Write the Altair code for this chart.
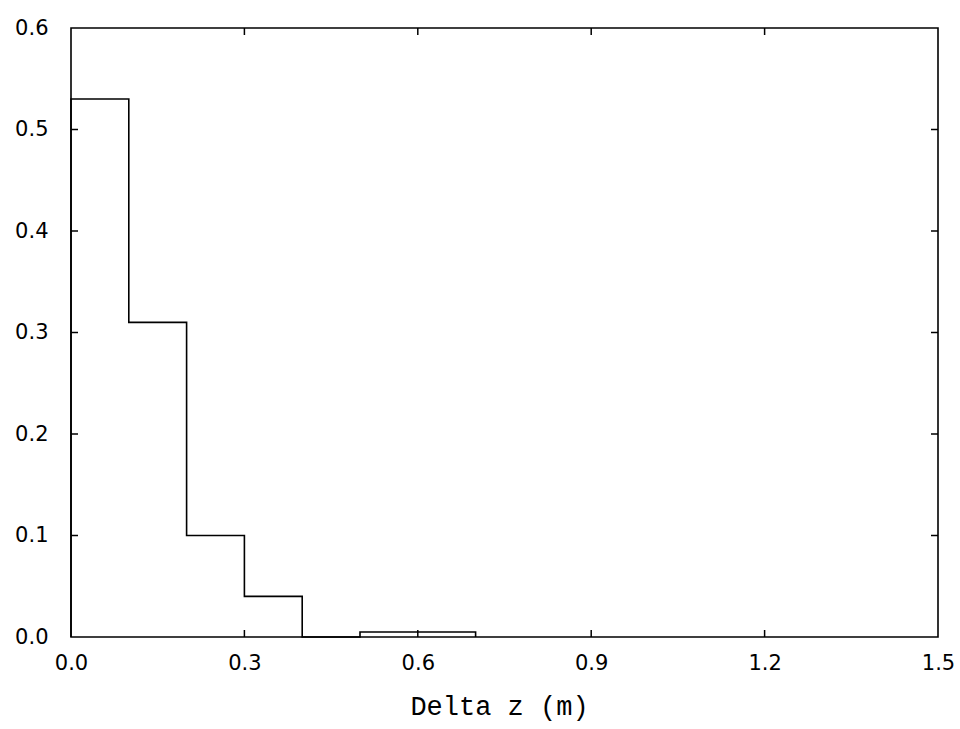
import altair as alt
import pandas as pd

# Histogram data (bin edges and relative frequency)
bin_left = [0.0, 0.1, 0.2, 0.3, 0.4, 0.5, 0.6]
bin_right = [0.1, 0.2, 0.3, 0.4, 0.5, 0.6, 0.7]
freq = [0.53, 0.31, 0.10, 0.04, 0.0, 0.005, 0.005]

x_tick_values = [0.0, 0.3, 0.6, 0.9, 1.2, 1.5]
y_tick_values = [0.0, 0.1, 0.2, 0.3, 0.4, 0.5, 0.6]
x_inner_ticks = [0.3, 0.6, 0.9, 1.2]
y_inner_ticks = [0.1, 0.2, 0.3, 0.4, 0.5]

W, H = 867, 609
LEFT, TOP = 71, 28
TICK = 7

# outline vertices of the step histogram
pts = [(0.0, 0.0)]
for l, r, f in zip(bin_left, bin_right, freq):
    pts.append((l, f))
    pts.append((r, f))
pts.append((bin_right[-1], 0.0))
outline = pd.DataFrame({"x": [p[0] for p in pts], "y": [p[1] for p in pts],
                        "order": list(range(len(pts)))})

xscale = alt.Scale(domain=[0, 1.5], nice=False, zero=False)
yscale = alt.Scale(domain=[0, 0.6], nice=False, zero=False)

xaxis = alt.Axis(values=x_tick_values, format=".1f", ticks=False, domain=False,
                 grid=False, labelFont="DejaVu Sans", labelFontSize=21,
                 labelColor="black", labelPadding=15, labelFlush=False,
                 title="Delta z (m)", titleFont="Liberation Mono",
                 titleFontSize=27, titleFontWeight="normal", titleColor="black",
                 titleBaseline="middle", titleY=69, titleX=428)
yaxis = alt.Axis(values=y_tick_values, format=".1f", ticks=False, domain=False,
                 grid=False, labelFont="DejaVu Sans", labelFontSize=21,
                 labelColor="black", labelPadding=23, labelFlush=False,
                 title=None)

hist = alt.Chart(outline).mark_line(color="black", strokeWidth=1.6,
                                    strokeJoin="miter").encode(
    x=alt.X("x:Q", scale=xscale, axis=xaxis),
    y=alt.Y("y:Q", scale=yscale, axis=yaxis),
    order="order:Q",
)

xt = pd.DataFrame({"t": x_inner_ticks})
yt = pd.DataFrame({"t": y_inner_ticks})

bottom_ticks = alt.Chart(xt).mark_rule(color="black", strokeWidth=1.5).encode(
    x=alt.X("t:Q", scale=xscale), y=alt.value(H), y2=alt.value(H - TICK))
top_ticks = alt.Chart(xt).mark_rule(color="black", strokeWidth=1.5).encode(
    x=alt.X("t:Q", scale=xscale), y=alt.value(0), y2=alt.value(TICK))
left_ticks = alt.Chart(yt).mark_rule(color="black", strokeWidth=1.5).encode(
    y=alt.Y("t:Q", scale=yscale), x=alt.value(0), x2=alt.value(TICK))
right_ticks = alt.Chart(yt).mark_rule(color="black", strokeWidth=1.5).encode(
    y=alt.Y("t:Q", scale=yscale), x=alt.value(W - TICK), x2=alt.value(W))

chart = alt.layer(hist, bottom_ticks, top_ticks, left_ticks, right_ticks).properties(
    width=W, height=H,
    autosize=alt.AutoSizeParams(type="none"),
    padding={"left": LEFT, "top": TOP, "right": 960 - LEFT - W,
             "bottom": 729 - TOP - H},
    background="white",
).configure_view(stroke="black", strokeWidth=1.6)

chart.save("out.html", embed_options={"renderer": "svg", "actions": False})
